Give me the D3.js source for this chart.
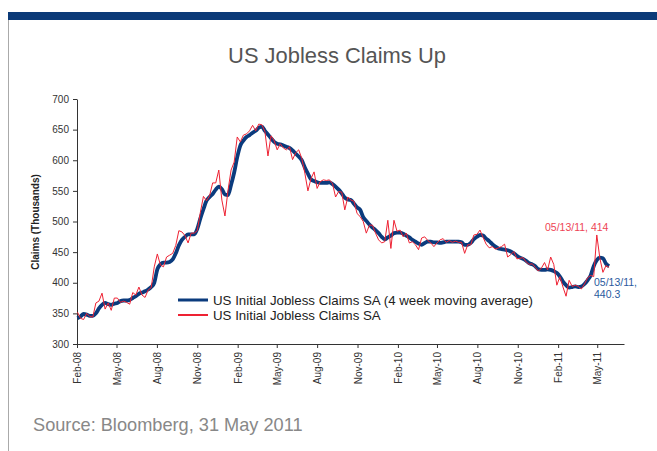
<!doctype html>
<html lang="en">
<head>
<meta charset="utf-8">
<style>
  body { margin: 0; background: #fff; }
  svg { display: block; font-family: "Liberation Sans", Arial, sans-serif; }
  .axis path, .axis line { stroke: #333; }
  .axis text { fill: #333; font-size: 10px; }
</style>
<script src="https://d3js.org/d3.v7.min.js"></script>
</head>
<body>
<svg width="657" height="451"></svg>
<script>
// weekly observations, first week ending 2 Feb 2008
const firstWeek = "2008-02-02";

const claimsSA = [
  352, 342, 340, 350, 345, 344, 367, 370, 383, 357,
  367, 355, 375, 375, 368, 370, 368, 365, 384, 380,
  393, 380, 376, 388, 392, 426, 447, 429, 426, 442,
  445, 448, 461, 485, 483, 477, 465, 481, 481, 485,
  515, 541, 534, 542, 563, 563, 584, 535, 509, 551,
  584, 597, 638, 630, 641, 643, 648, 657, 648, 659,
  658, 647, 607, 640, 632, 617, 627, 620, 617, 622,
  601, 612, 617, 603, 579, 550, 570, 581, 554, 565,
  568, 567, 568, 562, 540, 549, 548, 519, 540, 535,
  533, 513, 508, 500, 481, 494, 494, 481, 470, 465,
  467, 502, 456, 502, 484, 486, 475, 481, 465, 467,
  462, 454, 473, 475, 469, 465, 459, 465, 470, 472,
  466, 469, 466, 468, 466, 466, 448, 462, 462, 478,
  479, 486, 474, 463, 457, 459, 455, 457, 459, 463,
  442, 446, 451, 439, 440, 441, 434, 430, 431, 425,
  419, 424, 433, 421, 442, 430, 396, 410, 393, 378,
  404, 394, 396, 394, 390, 398, 408, 412, 410, 478,
  440, 417, 428, 425
];

const claims4wk = [
  342, 345, 349, 348, 346, 346, 350, 358, 364, 367,
  365, 364, 366, 367, 370, 371, 371, 372, 375, 378,
  382, 384, 386, 389, 393, 400, 422, 430, 433, 433,
  434, 438, 448, 461, 470, 475, 479, 479, 479, 488,
  505, 520, 534, 540, 545, 552, 557, 553, 544, 543,
  560, 580, 605, 624, 632, 638, 641, 645, 648, 653,
  655, 648, 642, 636, 630, 627, 626, 624, 622, 620,
  616, 611, 606, 600, 588, 578, 569, 566, 564, 563,
  563, 563, 564, 561, 557, 552, 546, 539, 536, 535,
  529, 523, 519, 507, 501, 495, 490, 486, 481, 475,
  471, 474, 477, 481, 482, 482, 480, 477, 474, 470,
  467, 464, 462, 465, 467, 467, 466, 466, 465, 466,
  467, 467, 467, 467, 467, 466, 462, 462, 465, 471,
  475, 478, 477, 472, 468, 463, 459, 456, 455, 454,
  453, 451, 448, 444, 441, 439, 436, 432, 430, 427,
  422, 421, 421, 422, 421, 419, 416, 410, 402, 396,
  392, 393, 394, 393, 394, 398, 404, 412, 427, 437,
  441, 440, 431, 427
];

const tickLabels = ["Feb-08", "May-08", "Aug-08", "Nov-08", "Feb-09", "May-09", "Aug-09",
  "Nov-09", "Feb-10", "May-10", "Aug-10", "Nov-10", "Feb-11", "May-11"];
const yTicks = [300, 350, 400, 450, 500, 550, 600, 650, 700];

const seriesNames = ["US Initial Jobless Claims SA (4 week moving average)", "US Initial Jobless Claims SA"];
const seriesColors = ["#0b3b7d", "#ee2233"];

const svg = d3.select("svg");

// header band + left rule
svg.append("rect").attr("x", 8).attr("y", 12).attr("width", 649).attr("height", 8).attr("fill", "#0b3a78");
svg.append("line").attr("x1", 8.5).attr("x2", 8.5).attr("y1", 20).attr("y2", 451)
  .attr("stroke", "#aaa").attr("stroke-width", 1);

svg.append("text")
  .attr("x", 337).attr("y", 63)
  .attr("text-anchor", "middle")
  .attr("fill", "#555")
  .style("font-size", "21.9px")
  .text("US Jobless Claims Up");

const parseDay = d3.timeParse("%Y-%m-%d");
const parseTick = d3.timeParse("%b-%y");
const start = parseDay(firstWeek);
const weeks = claimsSA.map((d, i) => d3.timeDay.offset(start, i * 7));

const x = d3.scaleTime()
  .domain([parseDay("2008-02-01"), parseDay("2011-07-01")])
  .range([77, 624]);

const y = d3.scaleLinear()
  .domain([300, 700])
  .range([344, 99]);

svg.append("g")
  .attr("class", "axis")
  .attr("transform", "translate(77,0)")
  .call(d3.axisLeft(y).tickValues(yTicks).tickSize(4).tickSizeOuter(0).tickPadding(4));

const xAxis = svg.append("g")
  .attr("class", "axis")
  .attr("transform", "translate(0,344)")
  .call(d3.axisBottom(x).tickValues(tickLabels.map(parseTick)).tickSize(4).tickSizeOuter(0)
    .tickFormat((d, i) => tickLabels[i]));

xAxis.selectAll("text")
  .attr("transform", "rotate(-90)")
  .attr("text-anchor", "end")
  .attr("x", -8)
  .attr("y", 0)
  .attr("dy", "0.35em");

svg.append("text")
  .attr("transform", "translate(39,222) rotate(-90)")
  .attr("text-anchor", "middle")
  .attr("fill", "#222")
  .style("font-size", "10px")
  .style("font-weight", "bold")
  .text("Claims (Thousands)");

const line = d3.line()
  .x((d, i) => x(weeks[i]))
  .y(d => y(d));

svg.append("path")
  .datum(claims4wk)
  .attr("fill", "none")
  .attr("stroke", seriesColors[0])
  .attr("stroke-width", 3.8)
  .attr("stroke-linejoin", "round")
  .attr("d", line.curve(d3.curveMonotoneX));

svg.append("path")
  .datum(claimsSA)
  .attr("fill", "none")
  .attr("stroke", seriesColors[1])
  .attr("stroke-width", 1)
  .attr("d", line.curve(d3.curveLinear));

// legend
const legend = svg.append("g").attr("transform", "translate(178,300)");
seriesNames.forEach((name, i) => {
  const g = legend.append("g").attr("transform", `translate(0,${i * 15})`);
  g.append("line").attr("x1", 0).attr("x2", 30).attr("y1", 0).attr("y2", 0)
    .attr("stroke", seriesColors[i]).attr("stroke-width", i === 0 ? 3 : 2);
  g.append("text").attr("x", 35).attr("y", 4.5)
    .attr("fill", "#222").style("font-size", "13.3px").text(name);
});

// annotations
svg.append("text")
  .attr("x", 545).attr("y", 231)
  .attr("fill", "#ee4455")
  .style("font-size", "10.5px")
  .text("05/13/11, 414");

const blueNote = svg.append("text")
  .attr("x", 594).attr("y", 286)
  .attr("fill", "#2a5a9e")
  .style("font-size", "10.5px");
blueNote.append("tspan").attr("x", 594).text("05/13/11,");
blueNote.append("tspan").attr("x", 594).attr("dy", 12).text("440.3");

svg.append("text")
  .attr("x", 33).attr("y", 431)
  .attr("fill", "#888")
  .style("font-size", "18.2px")
  .text("Source: Bloomberg, 31 May 2011");
</script>
</body>
</html>
